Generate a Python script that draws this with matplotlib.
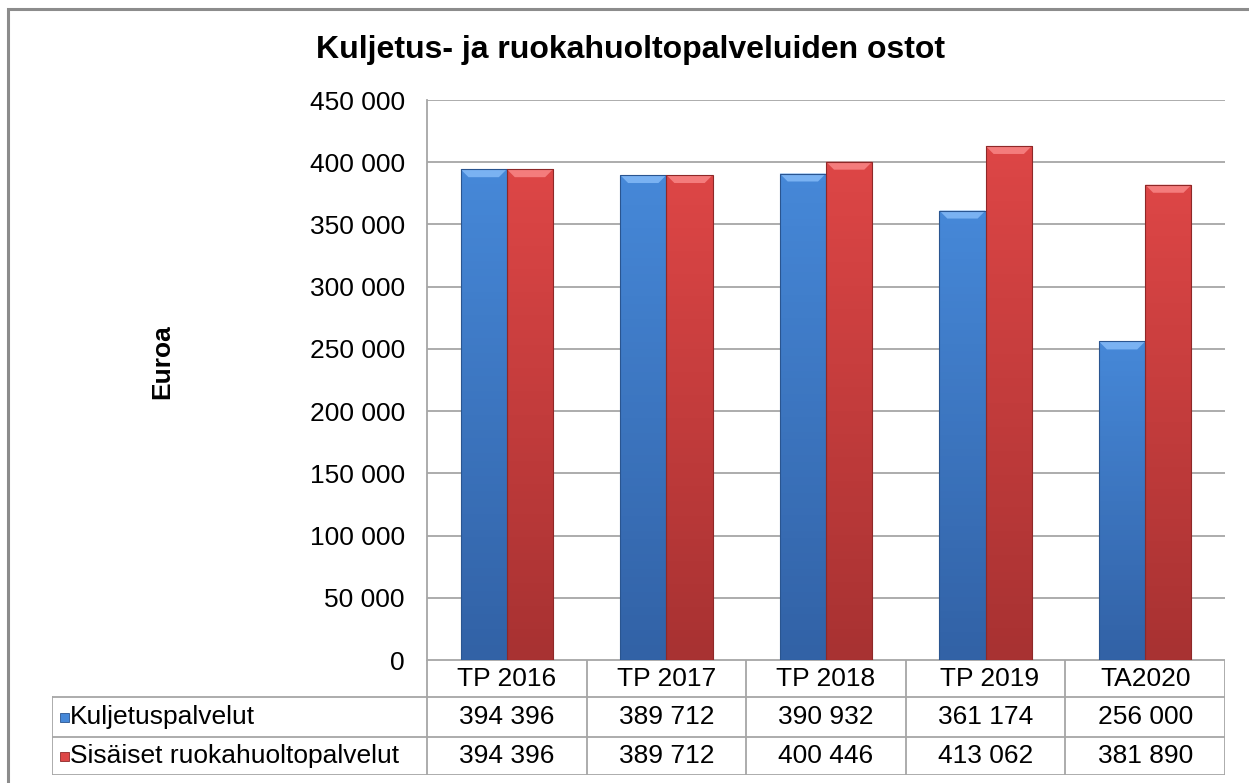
import numpy as np
import matplotlib.pyplot as plt
from matplotlib.patches import Rectangle, Polygon

plt.rcParams['font.family'] = ['Liberation Sans', 'DejaVu Sans']

# data
categories = ['TP 2016', 'TP 2017', 'TP 2018', ' TP 2019', 'TA2020']
series_names = ['Kuljetuspalvelut', 'Sisäiset ruokahuoltopalvelut']
kuljetus = [394396, 389712, 390932, 361174, 256000]
ruokahuolto = [394396, 389712, 400446, 413062, 381890]
yticks = np.arange(0, 450001, 50000)

# colours: (top, bottom, bevel, edge)
blue = ('#4688d8', '#3262a6', '#7ab2f2', '#2a5590')
red = ('#dd4646', '#a83232', '#f47c7c', '#8e2828')
fs = 19

W, H = 1249, 783
fig = plt.figure(figsize=(W / 100, H / 100), dpi=100)

# plot area in pixels
px_l, px_r, px_t, px_b = 427, 1225, 100, 660
ax = fig.add_axes([px_l / W, 1 - px_b / H, (px_r - px_l) / W, (px_b - px_t) / H])
ax.set_xlim(0, len(categories))
ax.set_ylim(0, 450000)
ax.set_yticks(yticks)
ax.set_yticklabels([f'{v:,}'.replace(',', ' ') for v in yticks], fontsize=fs)
ax.set_xticks([])
ax.tick_params(axis='y', length=0, pad=16)
ax.grid(axis='y', color='#a6a6a6', linewidth=1.3)
ax.set_axisbelow(True)
for s in ['top', 'right', 'bottom']:
    ax.spines[s].set_visible(False)
ax.spines['left'].set_color('#a6a6a6')
ax.spines['left'].set_linewidth(1.3)

bar_w = 0.29
bev_y = 8 * 450000 / (px_b - px_t)
bev_x = 8 * len(categories) / (px_r - px_l)


def bevel_bar(x0, h, col):
    top, bot, bev, edge = col
    rect = Rectangle((x0, 0), bar_w, h, facecolor=top, edgecolor='none', zorder=3)
    ax.add_patch(rect)
    grad = np.linspace(0, 1, 64).reshape(-1, 1)
    cmap = plt.matplotlib.colors.LinearSegmentedColormap.from_list('g', [bot, top])
    im = ax.imshow(grad, extent=[x0, x0 + bar_w, 0, h], origin='lower', cmap=cmap,
                   aspect='auto', zorder=3)
    im.set_clip_path(rect)
    # top bevel
    ax.add_patch(Polygon([(x0, h), (x0 + bar_w, h), (x0 + bar_w - bev_x, h - bev_y),
                          (x0 + bev_x, h - bev_y)], closed=True, facecolor=bev,
                         edgecolor='none', zorder=4))
    ax.add_patch(Rectangle((x0, 0), bar_w, h, facecolor='none', edgecolor=edge,
                           linewidth=0.8, zorder=5))


for i in range(len(categories)):
    bevel_bar(i + 0.5 - bar_w, kuljetus[i], blue)
    bevel_bar(i + 0.5, ruokahuolto[i], red)
ax.set_xlim(0, len(categories))
ax.set_ylim(0, 450000)

# data table below the plot
tb_l, tb_b = 52, 775
tax = fig.add_axes([tb_l / W, 1 - tb_b / H, (px_r - tb_l) / W, (tb_b - px_b) / H])
cat_px = (px_r - px_l) / len(categories)
label_w = (px_l - tb_l) / cat_px
tax.set_xlim(-label_w, len(categories))
rows_y = [0, 37, 77, 115]
tax.set_ylim(rows_y[-1], 0)
tax.axis('off')
lc = '#a6a6a6'
lw = 1.3
# horizontal lines
tax.plot([0, len(categories)], [rows_y[0]] * 2, color=lc, lw=lw)
for y in rows_y[1:]:
    tax.plot([-label_w, len(categories)], [y, y], color=lc, lw=lw)
# vertical lines
for i in range(len(categories) + 1):
    tax.plot([i, i], [rows_y[0], rows_y[-1]], color=lc, lw=lw)
tax.plot([-label_w, -label_w], [rows_y[1], rows_y[-1]], color=lc, lw=lw)

for i, c in enumerate(categories):
    tax.text(i + 0.5, (rows_y[0] + rows_y[1]) / 2, c, ha='center', va='center', fontsize=fs)
for r, (name, vals, col) in enumerate(zip(series_names, [kuljetus, ruokahuolto], [blue, red])):
    yc = (rows_y[r + 1] + rows_y[r + 2]) / 2
    for i, v in enumerate(vals):
        tax.text(i + 0.5, yc, f'{v:,}'.replace(',', ' '), ha='center', va='center', fontsize=fs)
    sq = 9 / cat_px
    x0 = -label_w + 8 / cat_px
    tax.add_patch(Rectangle((x0, yc - 4.5), sq, 9, facecolor=col[0], edgecolor=col[3], lw=0.6))
    tax.text(x0 + sq + 1 / cat_px, yc, name, ha='left', va='center', fontsize=fs)

# titles
fig.text(631 / W, 1 - 50 / H, 'Kuljetus- ja ruokahuoltopalveluiden ostot', ha='center',
         va='center', fontsize=23, fontweight='bold')
fig.text(162 / W, 1 - 362 / H, 'Euroa', rotation=90, ha='center', va='center',
         fontsize=19, fontweight='bold')

# outer chart border
fig.patches.append(Rectangle((7.5 / W, -0.02), 1.05, 1 - 9.5 / H + 0.02, transform=fig.transFigure,
                             facecolor='none', edgecolor='#8c8c8c', linewidth=2.2))

fig.savefig('out.png', dpi=100)
